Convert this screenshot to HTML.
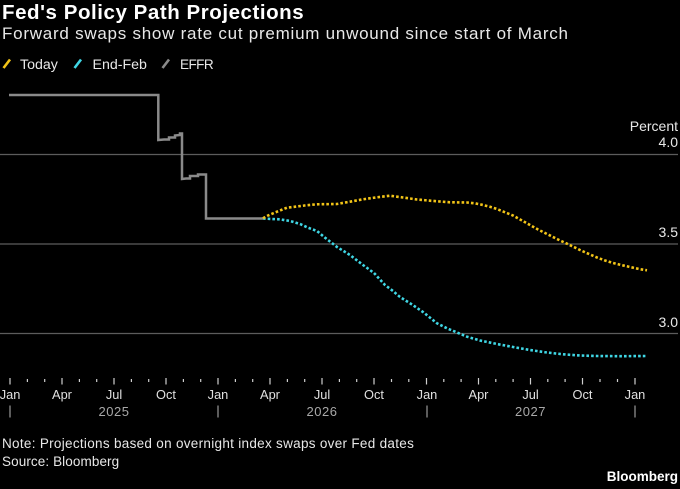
<!DOCTYPE html>
<html>
<head>
<meta charset="utf-8">
<style>
  html, body { margin:0; padding:0; background:#000; }
  body { width:680px; height:489px; overflow:hidden; }
  svg { display:block; }
  text { font-family: "Liberation Sans", Arial, sans-serif; }
</style>
</head>
<body>
<svg width="680" height="489" viewBox="0 0 680 489" xmlns="http://www.w3.org/2000/svg">
  <rect x="0" y="0" width="680" height="489" fill="#000"/>

  <!-- Title -->
  <text x="2" y="19" font-size="20.5" font-weight="bold" fill="#ffffff" letter-spacing="0.55">Fed's Policy Path Projections</text>
  <text x="2" y="39" font-size="17" fill="#e8e8e8" letter-spacing="0.75">Forward swaps show rate cut premium unwound since start of March</text>

  <!-- Legend -->
  <line x1="3.5" y1="68" x2="10" y2="59.5" stroke="#f2c417" stroke-width="2.6"/>
  <text x="20" y="69" font-size="14.2" fill="#e8e8e8">Today</text>
  <line x1="74.5" y1="68" x2="81" y2="59.5" stroke="#3fd6e4" stroke-width="2.6"/>
  <text x="92.5" y="69" font-size="14.2" fill="#e8e8e8">End-Feb</text>
  <line x1="162.5" y1="68" x2="169" y2="59.5" stroke="#8a8a8a" stroke-width="2.6"/>
  <text x="180" y="69" font-size="13.6" fill="#e8e8e8" letter-spacing="-0.6">EFFR</text>

  <!-- Gridlines -->
  <line x1="0" y1="154.5" x2="678" y2="154.5" stroke="#5c5c5c" stroke-width="1.2"/>
  <line x1="0" y1="244" x2="678" y2="244" stroke="#5c5c5c" stroke-width="1.2"/>
  <line x1="0" y1="333.5" x2="678" y2="333.5" stroke="#5c5c5c" stroke-width="1.2"/>

  <!-- Y labels -->
  <text x="678" y="131" font-size="14" fill="#e8e8e8" text-anchor="end">Percent</text>
  <text x="678" y="147" font-size="14" fill="#e8e8e8" text-anchor="end">4.0</text>
  <text x="678" y="237" font-size="14" fill="#e8e8e8" text-anchor="end">3.5</text>
  <text x="678" y="327" font-size="14" fill="#e8e8e8" text-anchor="end">3.0</text>

  <!-- EFFR -->
  <polyline fill="none" stroke="#8a8a8a" stroke-width="2.5" stroke-linejoin="miter"
    points="9,95 158.3,95 158.3,140 164,139.5 169,139.5 169,137.5 175,137.5 175,135.5 180,135 180,133.5 182,133.5 182,179 186,178.5 190,178.5 190,176 198,176 198,174.5 206,174.5 206,218.5 263,218.5"/>

  <!-- End-Feb (cyan) -->
  <polyline fill="none" stroke="#3fd6e4" stroke-width="2.6" stroke-dasharray="2.6 2.1"
    points="263,218.5 272,219 280,219.3 290,221 300,224 308,227.7 317,231 325,237.7 337,247 350,255 363,265 374,273 385,285 393,291 400,297 412,304.5 423,312 437,323.3 447,328.3 457,332.5 467,336.7 480,340.5 497,344 513,347 530,350 547,352.5 563,354.3 580,355.5 597,356 620,356.2 647,356"/>

  <!-- Today (yellow) -->
  <polyline fill="none" stroke="#f2c417" stroke-width="2.6" stroke-dasharray="2.6 2.1"
    points="263,218.3 268,215.5 277,211.7 287,207.7 297,206.5 307,205.2 317,204.3 337,204 350,201.7 363,199.3 377,197.3 390,195.7 403,197.5 417,199.5 437,201.3 450,202.3 467,202.5 475,203.3 483,205 490,206.8 497,209 505,212.3 513,215.5 521,220 530,225 538,229.5 547,234 557,239 567,243.7 580,250 590,254.5 597,257.5 605,260.5 613,263 622,265.2 630,267 640,269.2 647,270.3"/>

  <!-- X axis ticks -->
  <g stroke="#cfcfcf" stroke-width="1.2">
    <line x1="10" y1="378" x2="10" y2="384.5"/>
    <line x1="62" y1="378" x2="62" y2="384.5"/>
    <line x1="114" y1="378" x2="114" y2="384.5"/>
    <line x1="166" y1="378" x2="166" y2="384.5"/>
    <line x1="218" y1="378" x2="218" y2="384.5"/>
    <line x1="270" y1="378" x2="270" y2="384.5"/>
    <line x1="322" y1="378" x2="322" y2="384.5"/>
    <line x1="374" y1="378" x2="374" y2="384.5"/>
    <line x1="426.5" y1="378" x2="426.5" y2="384.5"/>
    <line x1="478.5" y1="378" x2="478.5" y2="384.5"/>
    <line x1="530.5" y1="378" x2="530.5" y2="384.5"/>
    <line x1="582.5" y1="378" x2="582.5" y2="384.5"/>
    <line x1="635" y1="378" x2="635" y2="384.5"/>
    <line x1="27.4" y1="379" x2="27.4" y2="382"/>
    <line x1="44.7" y1="379" x2="44.7" y2="382"/>
    <line x1="79.4" y1="379" x2="79.4" y2="382"/>
    <line x1="96.7" y1="379" x2="96.7" y2="382"/>
    <line x1="131.4" y1="379" x2="131.4" y2="382"/>
    <line x1="148.7" y1="379" x2="148.7" y2="382"/>
    <line x1="183.4" y1="379" x2="183.4" y2="382"/>
    <line x1="200.7" y1="379" x2="200.7" y2="382"/>
    <line x1="235.4" y1="379" x2="235.4" y2="382"/>
    <line x1="252.7" y1="379" x2="252.7" y2="382"/>
    <line x1="287.4" y1="379" x2="287.4" y2="382"/>
    <line x1="304.7" y1="379" x2="304.7" y2="382"/>
    <line x1="339.4" y1="379" x2="339.4" y2="382"/>
    <line x1="356.7" y1="379" x2="356.7" y2="382"/>
    <line x1="391.5" y1="379" x2="391.5" y2="382"/>
    <line x1="408.8" y1="379" x2="408.8" y2="382"/>
    <line x1="443.8" y1="379" x2="443.8" y2="382"/>
    <line x1="461.1" y1="379" x2="461.1" y2="382"/>
    <line x1="495.8" y1="379" x2="495.8" y2="382"/>
    <line x1="513.1" y1="379" x2="513.1" y2="382"/>
    <line x1="547.8" y1="379" x2="547.8" y2="382"/>
    <line x1="565.1" y1="379" x2="565.1" y2="382"/>
    <line x1="600" y1="379" x2="600" y2="382"/>
    <line x1="617.5" y1="379" x2="617.5" y2="382"/>
  </g>

  <!-- Month labels -->
  <g font-size="12.8" fill="#e0e0e0" text-anchor="middle">
    <text x="10" y="399">Jan</text>
    <text x="62" y="399">Apr</text>
    <text x="114" y="399">Jul</text>
    <text x="166" y="399">Oct</text>
    <text x="218" y="399">Jan</text>
    <text x="270" y="399">Apr</text>
    <text x="322" y="399">Jul</text>
    <text x="374" y="399">Oct</text>
    <text x="427" y="399">Jan</text>
    <text x="478.5" y="399">Apr</text>
    <text x="530.5" y="399">Jul</text>
    <text x="582.5" y="399">Oct</text>
    <text x="635" y="399">Jan</text>
  </g>

  <!-- Year row -->
  <g stroke="#a8a8a8" stroke-width="1.1">
    <line x1="10" y1="405.5" x2="10" y2="417.5"/>
    <line x1="218" y1="405.5" x2="218" y2="417.5"/>
    <line x1="427" y1="405.5" x2="427" y2="417.5"/>
    <line x1="635" y1="405.5" x2="635" y2="417.5"/>
  </g>
  <g font-size="13" fill="#a8a8a8" text-anchor="middle" letter-spacing="0.5">
    <text x="114" y="416">2025</text>
    <text x="322" y="416">2026</text>
    <text x="530.5" y="416">2027</text>
  </g>

  <!-- Footer -->
  <text x="2" y="448" font-size="13.5" fill="#e8e8e8" letter-spacing="0.3">Note: Projections based on overnight index swaps over Fed dates</text>
  <text x="2" y="466" font-size="13.5" fill="#e8e8e8" letter-spacing="0.1">Source: Bloomberg</text>
  <text x="678" y="481" font-size="13.5" font-weight="bold" fill="#ffffff" text-anchor="end">Bloomberg</text>
</svg>
</body>
</html>
